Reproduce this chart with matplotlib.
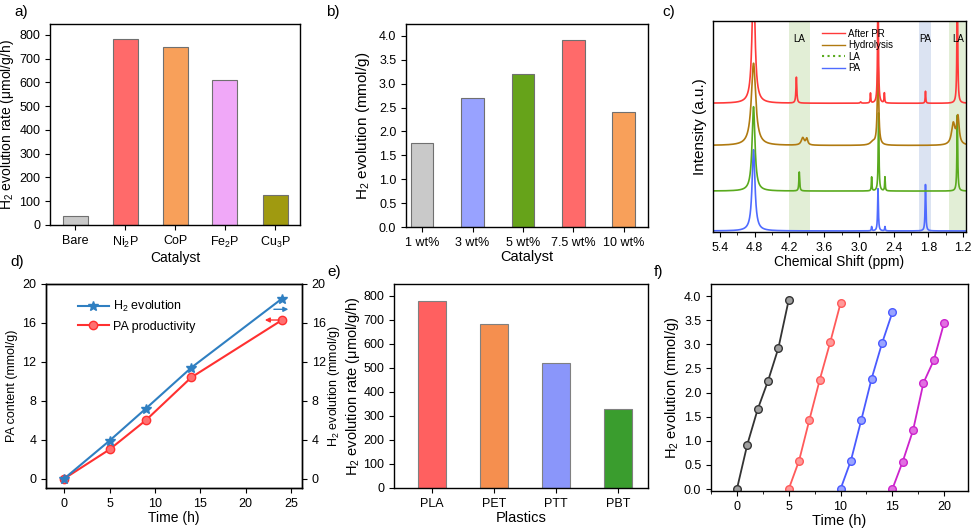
import matplotlib
matplotlib.use("Agg")
import matplotlib.pyplot as plt
from matplotlib.lines import Line2D
import numpy as np

plt.rcParams['font.family'] = ['Liberation Sans', 'DejaVu Sans']
plt.rcParams['mathtext.default'] = 'regular'
plt.rcParams['font.size'] = 9
plt.rcParams['axes.linewidth'] = 1.0
plt.rcParams['xtick.direction'] = 'out'
plt.rcParams['ytick.direction'] = 'out'

# a) catalyst screening
cat_a = ['Bare', 'Ni$_2$P', 'CoP', 'Fe$_2$P', 'Cu$_3$P']
rate_a = [38, 782, 748, 610, 125]
col_a = ['#c9c9c9', '#ff6a6a', '#f8a05a', '#f0a8f8', '#a09a10']

# b) loading
cat_b = ['1 wt%', '3 wt%', '5 wt%', '7.5 wt%', '10 wt%']
h2_b = [1.75, 2.70, 3.20, 3.91, 2.40]
col_b = ['#c9c9c9', '#98a2ff', '#66a31a', '#ff6a6a', '#f8a05a']

# c) 1H NMR peak tables: (ppm, height, half width)
nmr_names = ['PA', 'LA', 'Hydrolysis', 'After PR']
nmr_colors = ['#4f6bff', '#5aaa1e', '#b07a10', '#ff3a3a']
nmr_offsets = [0.005, 0.194, 0.41, 0.61]
nmr_peaks = [
    [(4.82, 0.385, 0.03), (2.78, 0.02, 0.006), (2.67, 0.20, 0.008),
     (2.55, 0.02, 0.006), (1.85, 0.22, 0.008)],
    [(4.82, 0.40, 0.03), (4.03, 0.09, 0.008), (2.78, 0.066, 0.006),
     (2.66, 0.37, 0.008), (2.55, 0.066, 0.006), (1.30, 0.36, 0.008)],
    [(4.82, 0.39, 0.045), (3.97, 0.035, 0.03), (3.90, 0.03, 0.02),
     (2.67, 0.39, 0.014), (2.76, 0.015, 0.05), (1.37, 0.10, 0.035),
     (1.29, 0.13, 0.025)],
    [(4.82, 0.60, 0.03), (4.08, 0.123, 0.009), (2.97, 0.006, 0.01),
     (2.80, 0.047, 0.006), (2.67, 0.60, 0.008), (2.56, 0.047, 0.006),
     (1.85, 0.057, 0.006), (1.30, 0.60, 0.008)],
]
la_bands = [(4.20, 3.85), (1.44, 1.10)]
pa_band = (1.97, 1.75)

# d) time course
t_d = [0, 5, 9, 14, 24]
h2_d = [0, 3.9, 7.2, 11.4, 18.5]
pa_d = [0, 3.0, 6.0, 10.4, 16.3]

# e) plastics
cat_e = ['PLA', 'PET', 'PTT', 'PBT']
rate_e = [780, 685, 520, 330]
col_e = ['#ff6060', '#f58f4f', '#8a96fa', '#3a9d2e']

# f) cycling
cycles_t = [[0, 1, 2, 3, 4, 5], [5, 6, 7, 8, 9, 10],
            [10, 11, 12, 13, 14, 15], [15, 16, 17, 18, 19, 20]]
cycles_h2 = [[0, 0.92, 1.65, 2.24, 2.92, 3.92],
             [0, 0.59, 1.44, 2.27, 3.04, 3.85],
             [0, 0.59, 1.43, 2.29, 3.02, 3.66],
             [0, 0.57, 1.22, 2.20, 2.67, 3.45]]
cycles_col = ['#333333', '#ff5a5a', '#4a5aff', '#cc22cc']
cycles_face = ['#a0a0a0', '#ff9a9a', '#9aa4ff', '#e070e0']

W, H = 974, 532
fig = plt.figure(figsize=(W / 100, H / 100), dpi=100)


def rect(l, t, r, b):
    return [l / W, 1 - b / H, (r - l) / W, (b - t) / H]


def label(x, y, s):
    fig.text(x / W, 1 - y / H, s, fontsize=11, va='center', ha='left')


# a
ax = fig.add_axes(rect(50, 24, 300, 225))
ax.bar(range(len(cat_a)), rate_a, width=0.5, color=col_a, edgecolor='#707070', linewidth=0.8)
ax.set_xticks(range(len(cat_a)), cat_a)
ax.set_xlim(-0.5, 4.5)
ax.set_ylim(0, 846)
ax.set_yticks(range(0, 801, 100))
ax.set_xlabel('Catalyst', fontsize=10, labelpad=1)
ax.set_ylabel('H$_2$ evolution rate (μmol/g/h)', fontsize=10, labelpad=2)
label(14, 12, 'a)')

# b
ax = fig.add_axes(rect(406, 24, 648, 227))
ax.bar(range(len(cat_b)), h2_b, width=0.45, color=col_b, edgecolor='#707070', linewidth=0.8)
ax.set_xticks(range(len(cat_b)), cat_b)
ax.set_xlim(-0.32, 4.48)
ax.set_ylim(0, 4.25)
ax.set_yticks(np.arange(0, 4.01, 0.5))
ax.set_xlabel('Catalyst', fontsize=10.5, labelpad=1)
ax.set_ylabel('H$_2$ evolution (mmol/g)', fontsize=11, labelpad=5)
label(326, 12, 'b)')

# c
ax = fig.add_axes(rect(713, 21, 966, 232))
x = np.linspace(5.6, 1.05, 5000)
for lo, hi in la_bands:
    ax.axvspan(lo, hi, color='#e2eed6', lw=0)
ax.axvspan(*pa_band, color='#dbe3f2', lw=0)
for name, col, off, peaks in zip(nmr_names, nmr_colors, nmr_offsets, nmr_peaks):
    y = np.full_like(x, off)
    for c, h, w in peaks:
        y += h / (1 + ((x - c) / w) ** 2)
    ax.plot(x, y, color=col, lw=1.2)
ax.set_xlim(5.52, 1.15)
ax.set_ylim(0, 1)
ax.set_yticks([])
ax.set_xticks(np.arange(5.4, 1.1, -0.6))
ax.set_xticks(np.arange(5.4, 1.1, -0.3), minor=True)
ax.xaxis.set_major_formatter(matplotlib.ticker.FormatStrFormatter('%.1f'))
ax.set_xlabel('Chemical Shift (ppm)', fontsize=10, labelpad=1)
ax.set_ylabel('Intensity (a.u.)', fontsize=11, labelpad=4)
for txt, xc in [('LA', 4.03), ('PA', 1.85), ('LA', 1.29)]:
    ax.text(xc, 0.915, txt, fontsize=7, ha='center', va='center')
handles = [Line2D([], [], color=nmr_colors[3], lw=1),
           Line2D([], [], color=nmr_colors[2], lw=1),
           Line2D([], [], color=nmr_colors[1], lw=1.5, ls=':'),
           Line2D([], [], color=nmr_colors[0], lw=1)]
ax.legend(handles, ['After PR', 'Hydrolysis', 'LA', 'PA'], loc='upper left',
          bbox_to_anchor=(0.40, 1.0), frameon=False, fontsize=7,
          handlelength=2.4, labelspacing=0.15, handletextpad=0.3, borderpad=0.3)
label(662, 12, 'c)')

# d
ax = fig.add_axes(rect(46, 284, 302, 488))
ax2 = ax.twinx()
ax.plot(t_d, pa_d, color='#ff3030', lw=1.5, marker='o', ms=6,
        mfc='#ff7070', mec='#ff3030', label='PA productivity', zorder=3)
ax2.plot(t_d, h2_d, color='#2f7fc1', lw=1.5, marker='*', ms=7,
         label='H$_2$ evolution')
for a in (ax, ax2):
    a.set_xlim(-2, 26.2)
    a.set_ylim(-0.96, 20)
    a.set_yticks(range(0, 21, 4))
ax.set_xticks(range(0, 26, 5))
ax.set_xlabel('Time (h)', fontsize=10, labelpad=1)
ax.set_ylabel('PA content (mmol/g)', fontsize=9, labelpad=3)
ax2.set_ylabel('H$_2$ evolution (mmol/g)', fontsize=9, labelpad=0.5)
ax2.annotate('', xy=(t_d[-1] + 1.0, h2_d[-1] - 1.1), xytext=(t_d[-1] - 1.2, h2_d[-1] - 1.1),
             arrowprops=dict(arrowstyle='-|>', color='#2f7fc1', lw=1, mutation_scale=7))
ax.annotate('', xy=(t_d[-1] - 2.2, pa_d[-1]), xytext=(t_d[-1], pa_d[-1]),
            arrowprops=dict(arrowstyle='-|>', color='#ff3030', lw=1, mutation_scale=7))
hl = [Line2D([], [], color='#2f7fc1', lw=1.5, marker='*', ms=7),
      Line2D([], [], color='#ff3030', lw=1.5, marker='o', ms=6, mfc='#ff7070')]
ax.legend(hl, ['H$_2$ evolution', 'PA productivity'], loc='upper left',
          bbox_to_anchor=(0.08, 0.98), frameon=False, fontsize=9,
          handlelength=2.5, labelspacing=0.5, handletextpad=0.3)
label(10, 262, 'd)')

# e
ax = fig.add_axes(rect(394, 284, 648, 488))
ax.bar(range(len(cat_e)), rate_e, width=0.45, color=col_e, edgecolor='#808080', linewidth=0.8)
ax.set_xticks(range(len(cat_e)), cat_e)
ax.set_xlim(-0.61, 3.48)
ax.set_ylim(0, 850)
ax.set_yticks(range(0, 801, 100))
ax.set_xlabel('Plastics', fontsize=10.5, labelpad=1)
ax.set_ylabel('H$_2$ evolution rate (μmol/g/h)', fontsize=10.5, labelpad=1)
label(327, 272, 'e)')

# f
ax = fig.add_axes(rect(711, 284, 968, 491))
for tt, hh, col, fc in zip(cycles_t, cycles_h2, cycles_col, cycles_face):
    ax.plot(tt, hh, color=col, lw=1.3, marker='o', ms=5.5, mfc=fc, mec=col)
ax.set_xlim(-2.48, 22.3)
ax.set_ylim(-0.04, 4.25)
ax.set_xticks(range(0, 21, 5))
ax.set_xticks(np.arange(-2.5, 22.4, 2.5), minor=True)
ax.set_yticks(np.arange(0, 4.01, 0.5))
ax.set_xlabel('Time (h)', fontsize=10.5, labelpad=1)
ax.set_ylabel('H$_2$ evolution (mmol/g)', fontsize=10.5, labelpad=2)
label(654, 272, 'f)')

fig.savefig('out.png', dpi=100)
